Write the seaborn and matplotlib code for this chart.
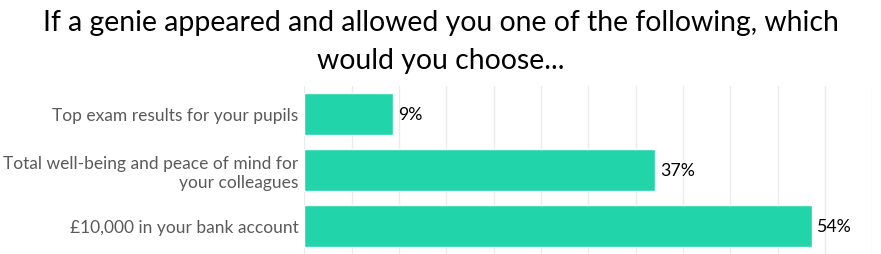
import matplotlib
matplotlib.use("Agg")
import matplotlib.pyplot as plt
import seaborn as sns
import pandas as pd

categories = ["Top exam results for your pupils",
              "Total well-being and peace of mind for\nyour colleagues",
              "£10,000 in your bank account"]
values = [9.4, 37.1, 53.6]
value_labels = ["9%", "37%", "54%"]
title = "If a genie appeared and allowed you one of the following, which\nwould you choose..."

sns.set_theme(style="white")
plt.rcParams['font.family'] = ['Lato', 'DejaVu Sans']

df = pd.DataFrame({"category": categories, "value": values})

fig = plt.figure(figsize=(8.81, 2.55), dpi=100)
ax = fig.add_axes([0.3454, 0.0, 0.6447, 0.66])
sns.barplot(data=df, y="category", x="value", color="#21D4A9", width=0.745,
            saturation=1, ax=ax, orient="h")
ax.set_xlim(0, 60)
ax.set_ylim(2.5, -0.5)
ax.set_xticks(range(0, 61, 5))
ax.grid(axis="x", color="#ebebeb", linewidth=1)
ax.set_axisbelow(True)
ax.tick_params(axis="x", bottom=False, labelbottom=False)
ax.tick_params(axis="y", left=False, length=0, labelsize=12.5,
               labelcolor="#5a5a5a", pad=4.3)
for s in ax.spines.values():
    s.set_visible(False)
ax.set_xlabel("")
ax.set_ylabel("")
for i, (v, lab) in enumerate(zip(values, value_labels)):
    ax.annotate(lab, xy=(v, i), xytext=(3.4, 0), textcoords="offset points",
                va="center", ha="left", fontsize=12.8, color="#000000")
fig.text(0.5, 0.962, title, ha="center", va="top", fontsize=20.4,
         color="#000000", linespacing=1.6)
fig.savefig("out.png", dpi=100)
